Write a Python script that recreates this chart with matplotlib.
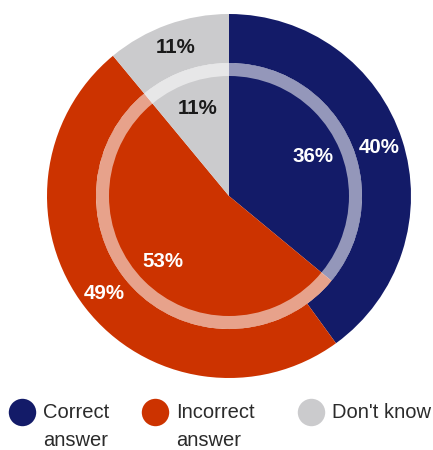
import matplotlib
matplotlib.use("Agg")
import matplotlib.pyplot as plt
from matplotlib.patches import Wedge

# ---- data ----
categories = ["Correct\nanswer", "Incorrect\nanswer", "Don't know"]
outer_vals = [40, 49, 11]
inner_vals = [36, 53, 11]
colors = ["#131b68", "#cc3300", "#cbcbcd"]
text_colors = ["white", "white", "#1a1a1a"]

plt.rcParams["font.family"] = ["Liberation Sans", "DejaVu Sans"]

W, H = 433, 450
fig = plt.figure(figsize=(W / 100, H / 100), dpi=100)
ax = fig.add_axes([0, 0, 1, 1])

# pixel-ish coordinates, y up
cx, cy = 229, H - 196
r_out, r_mid, ring_w = 182, 133, 13

# outer donut
_, _, out_txt = ax.pie(outer_vals, colors=colors, startangle=90, counterclock=False,
                       radius=r_out, center=(cx, cy), autopct="%.0f%%",
                       pctdistance=0.87, wedgeprops=dict(width=r_out - r_mid, linewidth=0))
# inner pie
_, _, in_txt = ax.pie(inner_vals, colors=colors, startangle=90, counterclock=False,
                      radius=r_mid, center=(cx, cy), autopct="%.0f%%",
                      pctdistance=0.70, wedgeprops=dict(linewidth=0))

for txts in (out_txt, in_txt):
    for t, c in zip(txts, text_colors):
        t.set_color(c)
        t.set_fontsize(14.8)
        t.set_fontweight("bold")

# translucent white ring between the two
ax.add_patch(Wedge((cx, cy), r_mid, 0, 360, width=ring_w, facecolor="white",
                   alpha=0.55, linewidth=0))

# legend drawn by hand (marker aligned with first text line)
leg_x = [22, 155, 311]
leg_y = H - 412
for x, lab, c in zip(leg_x, categories, colors):
    ax.scatter([x], [leg_y], s=390, color=c, linewidths=0)
    for i, line in enumerate(lab.split("\n")):
        ax.text(x + 21, H - 418 - i * 28, line, fontsize=14.5, color="#2b2b2b",
                va="baseline", ha="left")

ax.set_xlim(0, W)
ax.set_ylim(0, H)
ax.set_aspect("equal")
ax.axis("off")

fig.savefig("out.png", dpi=100, facecolor="white")
